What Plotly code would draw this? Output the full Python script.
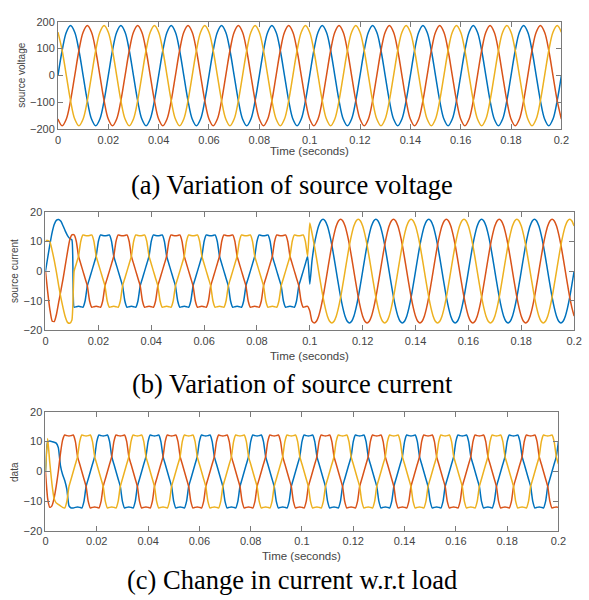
import plotly.graph_objects as go

W, H = 589, 600

# ---------------- data ----------------
# (a) source voltage, sampled every 30 electrical degrees (50 Hz)
step_a = 0.02 / 12
volt_blue = [
    0, 93, 161, 186, 161, 93, 0, -93, -161, -186, -161, -93,
    0, 93, 161, 186, 161, 93, 0, -93, -161, -186, -161, -93,
    0, 93, 161, 186, 161, 93, 0, -93, -161, -186, -161, -93,
    0, 93, 161, 186, 161, 93, 0, -93, -161, -186, -161, -93,
    0, 93, 161, 186, 161, 93, 0, -93, -161, -186, -161, -93,
    0, 93, 161, 186, 161, 93, 0, -93, -161, -186, -161, -93,
    0, 93, 161, 186, 161, 93, 0, -93, -161, -186, -161, -93,
    0, 93, 161, 186, 161, 93, 0, -93, -161, -186, -161, -93,
    0, 93, 161, 186, 161, 93, 0, -93, -161, -186, -161, -93,
    0, 93, 161, 186, 161, 93, 0, -93, -161, -186, -161, -93,
    0]
volt_red = [
    -161, -186, -161, -93, 0, 93, 161, 186, 161, 93, 0, -93,
    -161, -186, -161, -93, 0, 93, 161, 186, 161, 93, 0, -93,
    -161, -186, -161, -93, 0, 93, 161, 186, 161, 93, 0, -93,
    -161, -186, -161, -93, 0, 93, 161, 186, 161, 93, 0, -93,
    -161, -186, -161, -93, 0, 93, 161, 186, 161, 93, 0, -93,
    -161, -186, -161, -93, 0, 93, 161, 186, 161, 93, 0, -93,
    -161, -186, -161, -93, 0, 93, 161, 186, 161, 93, 0, -93,
    -161, -186, -161, -93, 0, 93, 161, 186, 161, 93, 0, -93,
    -161, -186, -161, -93, 0, 93, 161, 186, 161, 93, 0, -93,
    -161, -186, -161, -93, 0, 93, 161, 186, 161, 93, 0, -93,
    -161]
volt_yellow = [
    161, 93, 0, -93, -161, -186, -161, -93, 0, 93, 161, 186,
    161, 93, 0, -93, -161, -186, -161, -93, 0, 93, 161, 186,
    161, 93, 0, -93, -161, -186, -161, -93, 0, 93, 161, 186,
    161, 93, 0, -93, -161, -186, -161, -93, 0, 93, 161, 186,
    161, 93, 0, -93, -161, -186, -161, -93, 0, 93, 161, 186,
    161, 93, 0, -93, -161, -186, -161, -93, 0, 93, 161, 186,
    161, 93, 0, -93, -161, -186, -161, -93, 0, 93, 161, 186,
    161, 93, 0, -93, -161, -186, -161, -93, 0, 93, 161, 186,
    161, 93, 0, -93, -161, -186, -161, -93, 0, 93, 161, 186,
    161, 93, 0, -93, -161, -186, -161, -93, 0, 93, 161, 186,
    161]

# (b) source current and (c) load current, sampled every 15 electrical degrees
step_bc = 0.02 / 24
cur_b_blue = [
    0, 4.5, 9, 13, 15.8, 17.2, 17.4, 16.8, 15.2, 13.5, 12, 11, 10.5,
    -12.2, -12.0, -11.9, -12.0, -12.2, -10.0, -5, -2.5, 0, 2.5, 5,
    10.0, 12.2, 12.0, 11.9, 12.0, 12.2, 10.0, 5, 2.5, 0, -2.5, -5, -10.0, -12.2, -12.0, -11.9, -12.0, -12.2, -10.0, -5, -2.5, 0, 2.5, 5,
    10.0, 12.2, 12.0, 11.9, 12.0, 12.2, 10.0, 5, 2.5, 0, -2.5, -5, -10.0, -12.2, -12.0, -11.9, -12.0, -12.2, -10.0, -5, -2.5, 0, 2.5, 5,
    10.0, 12.2, 12.0, 11.9, 12.0, 12.2, 10.0, 5, 2.5, 0, -2.5, -5, -10.0, -12.2, -12.0, -11.9, -12.0, -12.2, -10.0, -5, -2.5, 0, 2.5, 5,
    10.0, 12.2, 12.0, 11.9, 12.0, 12.2, 10.0, 5, 2.5, 0, -2.5, -5, -10.0, -12.2, -12.0, -11.9, -12.0, -12.2, -10.0, -5, -2.5, 0, 2.5, 5,
    -4.4, 3.5,
    8.8, 12.4, 15.2, 16.9, 17.5, 16.9, 15.2, 12.4, 8.8, 4.5, 0, -4.5, -8.8, -12.4, -15.2, -16.9, -17.5, -16.9, -15.2, -12.4, -8.8, -4.5,
    0, 4.5, 8.8, 12.4, 15.2, 16.9, 17.5, 16.9, 15.2, 12.4, 8.8, 4.5, 0, -4.5, -8.8, -12.4, -15.2, -16.9, -17.5, -16.9, -15.2, -12.4, -8.8, -4.5,
    0, 4.5, 8.8, 12.4, 15.2, 16.9, 17.5, 16.9, 15.2, 12.4, 8.8, 4.5, 0, -4.5, -8.8, -12.4, -15.2, -16.9, -17.5, -16.9, -15.2, -12.4, -8.8, -4.5,
    0, 4.5, 8.8, 12.4, 15.2, 16.9, 17.5, 16.9, 15.2, 12.4, 8.8, 4.5, 0, -4.5, -8.8, -12.4, -15.2, -16.9, -17.5, -16.9, -15.2, -12.4, -8.8, -4.5,
    0, 4.5, 8.8, 12.4, 15.2, 16.9, 17.5, 16.9, 15.2, 12.4, 8.8, 4.5, 0, -4.5, -8.8, -12.4, -15.2, -16.9, -17.5, -16.9, -15.2, -12.4, -8.8, -4.5,
    0]
cur_b_red = [
    0, -7, -13, -16.8, -17, -14.5, -10.5, -6.5, -2.5, 2, 6.5, 10.5, 12.2,
    12.2, 10.0, 5, 2.5, 0, -2.5, -5, -10.0, -12.2, -12.0, -11.9,
    -12.0, -12.2, -10.0, -5, -2.5, 0, 2.5, 5, 10.0, 12.2, 12.0, 11.9, 12.0, 12.2, 10.0, 5, 2.5, 0, -2.5, -5, -10.0, -12.2, -12.0, -11.9,
    -12.0, -12.2, -10.0, -5, -2.5, 0, 2.5, 5, 10.0, 12.2, 12.0, 11.9, 12.0, 12.2, 10.0, 5, 2.5, 0, -2.5, -5, -10.0, -12.2, -12.0, -11.9,
    -12.0, -12.2, -10.0, -5, -2.5, 0, 2.5, 5, 10.0, 12.2, 12.0, 11.9, 12.0, 12.2, 10.0, 5, 2.5, 0, -2.5, -5, -10.0, -12.2, -12.0, -11.9,
    -12.0, -12.2, -10.0, -5, -2.5, 0, 2.5, 5, 10.0, 12.2, 12.0, 11.9, 12.0, 12.2, 10.0, 5, 2.5, 0, -2.5, -5, -10.0, -12.2, -12.0, -11.9,
    -13.5, -16.9,
    -17.5, -16.9, -15.2, -12.4, -8.8, -4.5, 0, 4.5, 8.8, 12.4, 15.2, 16.9, 17.5, 16.9, 15.2, 12.4, 8.8, 4.5, 0, -4.5, -8.8, -12.4,
    -15.2, -16.9, -17.5, -16.9, -15.2, -12.4, -8.8, -4.5, 0, 4.5, 8.8, 12.4, 15.2, 16.9, 17.5, 16.9, 15.2, 12.4, 8.8, 4.5, 0, -4.5, -8.8, -12.4,
    -15.2, -16.9, -17.5, -16.9, -15.2, -12.4, -8.8, -4.5, 0, 4.5, 8.8, 12.4, 15.2, 16.9, 17.5, 16.9, 15.2, 12.4, 8.8, 4.5, 0, -4.5, -8.8, -12.4,
    -15.2, -16.9, -17.5, -16.9, -15.2, -12.4, -8.8, -4.5, 0, 4.5, 8.8, 12.4, 15.2, 16.9, 17.5, 16.9, 15.2, 12.4, 8.8, 4.5, 0, -4.5, -8.8, -12.4,
    -15.2, -16.9, -17.5, -16.9, -15.2, -12.4, -8.8, -4.5, 0, 4.5, 8.8, 12.4, 15.2, 16.9, 17.5, 16.9, 15.2, 12.4, 8.8, 4.5, 0, -4.5, -8.8, -12.4,
    -15.2]
cur_b_yellow = [
    10.3, 10.3, 9.8, 7, 3.5, -0.5, -5, -9, -12.5, -15.5, -17.3, -17.6, -16.5,
    0, 2.5, 5, 10.0, 12.2, 12.0, 11.9, 12.0, 12.2, 10.0, 5,
    2.5, 0, -2.5, -5, -10.0, -12.2, -12.0, -11.9, -12.0, -12.2, -10.0, -5, -2.5, 0, 2.5, 5, 10.0, 12.2, 12.0, 11.9, 12.0, 12.2, 10.0, 5,
    2.5, 0, -2.5, -5, -10.0, -12.2, -12.0, -11.9, -12.0, -12.2, -10.0, -5, -2.5, 0, 2.5, 5, 10.0, 12.2, 12.0, 11.9, 12.0, 12.2, 10.0, 5,
    2.5, 0, -2.5, -5, -10.0, -12.2, -12.0, -11.9, -12.0, -12.2, -10.0, -5, -2.5, 0, 2.5, 5, 10.0, 12.2, 12.0, 11.9, 12.0, 12.2, 10.0, 5,
    2.5, 0, -2.5, -5, -10.0, -12.2, -12.0, -11.9, -12.0, -12.2, -10.0, -5, -2.5, 0, 2.5, 5, 10.0, 12.2, 12.0, 11.9, 12.0, 12.2, 10.0, 5,
    16.2, 12.8,
    8.8, 4.5, 0, -4.5, -8.8, -12.4, -15.2, -16.9, -17.5, -16.9, -15.2, -12.4, -8.8, -4.5, 0, 4.5, 8.8, 12.4, 15.2, 16.9, 17.5, 16.9,
    15.2, 12.4, 8.8, 4.5, 0, -4.5, -8.8, -12.4, -15.2, -16.9, -17.5, -16.9, -15.2, -12.4, -8.8, -4.5, 0, 4.5, 8.8, 12.4, 15.2, 16.9, 17.5, 16.9,
    15.2, 12.4, 8.8, 4.5, 0, -4.5, -8.8, -12.4, -15.2, -16.9, -17.5, -16.9, -15.2, -12.4, -8.8, -4.5, 0, 4.5, 8.8, 12.4, 15.2, 16.9, 17.5, 16.9,
    15.2, 12.4, 8.8, 4.5, 0, -4.5, -8.8, -12.4, -15.2, -16.9, -17.5, -16.9, -15.2, -12.4, -8.8, -4.5, 0, 4.5, 8.8, 12.4, 15.2, 16.9, 17.5, 16.9,
    15.2, 12.4, 8.8, 4.5, 0, -4.5, -8.8, -12.4, -15.2, -16.9, -17.5, -16.9, -15.2, -12.4, -8.8, -4.5, 0, 4.5, 8.8, 12.4, 15.2, 16.9, 17.5, 16.9,
    15.2]

cur_c_blue = [
    0, 9.8, 10.2, 10, 9.8, 9.5, 8, 2, -1, -3, -6, -11.5, -12.2,
    -12.2, -12.0, -11.9, -12.0, -12.2, -10.0, -5, -2.5, 0, 2.5, 5,
    10.0, 12.2, 12.0, 11.9, 12.0, 12.2, 10.0, 5, 2.5, 0, -2.5, -5, -10.0, -12.2, -12.0, -11.9, -12.0, -12.2, -10.0, -5, -2.5, 0, 2.5, 5,
    10.0, 12.2, 12.0, 11.9, 12.0, 12.2, 10.0, 5, 2.5, 0, -2.5, -5, -10.0, -12.2, -12.0, -11.9, -12.0, -12.2, -10.0, -5, -2.5, 0, 2.5, 5,
    10.0, 12.2, 12.0, 11.9, 12.0, 12.2, 10.0, 5, 2.5, 0, -2.5, -5, -10.0, -12.2, -12.0, -11.9, -12.0, -12.2, -10.0, -5, -2.5, 0, 2.5, 5,
    10.0, 12.2, 12.0, 11.9, 12.0, 12.2, 10.0, 5, 2.5, 0, -2.5, -5, -10.0, -12.2, -12.0, -11.9, -12.0, -12.2, -10.0, -5, -2.5, 0, 2.5, 5,
    10.0, 12.2, 12.0, 11.9, 12.0, 12.2, 10.0, 5, 2.5, 0, -2.5, -5, -10.0, -12.2, -12.0, -11.9, -12.0, -12.2, -10.0, -5, -2.5, 0, 2.5, 5,
    10.0, 12.2, 12.0, 11.9, 12.0, 12.2, 10.0, 5, 2.5, 0, -2.5, -5, -10.0, -12.2, -12.0, -11.9, -12.0, -12.2, -10.0, -5, -2.5, 0, 2.5, 5,
    10.0, 12.2, 12.0, 11.9, 12.0, 12.2, 10.0, 5, 2.5, 0, -2.5, -5, -10.0, -12.2, -12.0, -11.9, -12.0, -12.2, -10.0, -5, -2.5, 0, 2.5, 5,
    10.0, 12.2, 12.0, 11.9, 12.0, 12.2, 10.0, 5, 2.5, 0, -2.5, -5, -10.0, -12.2, -12.0, -11.9, -12.0, -12.2, -10.0, -5, -2.5, 0, 2.5, 5,
    10.0, 12.2, 12.0, 11.9, 12.0, 12.2, 10.0, 5, 2.5, 0, -2.5, -5, -10.0, -12.2, -12.0, -11.9, -12.0, -12.2, -10.0, -5, -2.5, 0, 2.5, 5,
    10.0]
cur_c_red = [
    0, -9, -12, -11.5, -9, -5, 0, 6, 10.5, 12.2, 12, 11.9, 12.0,
    12.2, 10.0, 5, 2.5, 0, -2.5, -5, -10.0, -12.2, -12.0, -11.9,
    -12.0, -12.2, -10.0, -5, -2.5, 0, 2.5, 5, 10.0, 12.2, 12.0, 11.9, 12.0, 12.2, 10.0, 5, 2.5, 0, -2.5, -5, -10.0, -12.2, -12.0, -11.9,
    -12.0, -12.2, -10.0, -5, -2.5, 0, 2.5, 5, 10.0, 12.2, 12.0, 11.9, 12.0, 12.2, 10.0, 5, 2.5, 0, -2.5, -5, -10.0, -12.2, -12.0, -11.9,
    -12.0, -12.2, -10.0, -5, -2.5, 0, 2.5, 5, 10.0, 12.2, 12.0, 11.9, 12.0, 12.2, 10.0, 5, 2.5, 0, -2.5, -5, -10.0, -12.2, -12.0, -11.9,
    -12.0, -12.2, -10.0, -5, -2.5, 0, 2.5, 5, 10.0, 12.2, 12.0, 11.9, 12.0, 12.2, 10.0, 5, 2.5, 0, -2.5, -5, -10.0, -12.2, -12.0, -11.9,
    -12.0, -12.2, -10.0, -5, -2.5, 0, 2.5, 5, 10.0, 12.2, 12.0, 11.9, 12.0, 12.2, 10.0, 5, 2.5, 0, -2.5, -5, -10.0, -12.2, -12.0, -11.9,
    -12.0, -12.2, -10.0, -5, -2.5, 0, 2.5, 5, 10.0, 12.2, 12.0, 11.9, 12.0, 12.2, 10.0, 5, 2.5, 0, -2.5, -5, -10.0, -12.2, -12.0, -11.9,
    -12.0, -12.2, -10.0, -5, -2.5, 0, 2.5, 5, 10.0, 12.2, 12.0, 11.9, 12.0, 12.2, 10.0, 5, 2.5, 0, -2.5, -5, -10.0, -12.2, -12.0, -11.9,
    -12.0, -12.2, -10.0, -5, -2.5, 0, 2.5, 5, 10.0, 12.2, 12.0, 11.9, 12.0, 12.2, 10.0, 5, 2.5, 0, -2.5, -5, -10.0, -12.2, -12.0, -11.9,
    -12.0, -12.2, -10.0, -5, -2.5, 0, 2.5, 5, 10.0, 12.2, 12.0, 11.9, 12.0, 12.2, 10.0, 5, 2.5, 0, -2.5, -5, -10.0, -12.2, -12.0, -11.9,
    -12.0]
cur_c_yellow = [
    0, 11, 3, -4, -9, -10.5, -11, -11.5, -12.0, -12.2, -10.0, -5, -2.5,
    0, 2.5, 5, 10.0, 12.2, 12.0, 11.9, 12.0, 12.2, 10.0, 5,
    2.5, 0, -2.5, -5, -10.0, -12.2, -12.0, -11.9, -12.0, -12.2, -10.0, -5, -2.5, 0, 2.5, 5, 10.0, 12.2, 12.0, 11.9, 12.0, 12.2, 10.0, 5,
    2.5, 0, -2.5, -5, -10.0, -12.2, -12.0, -11.9, -12.0, -12.2, -10.0, -5, -2.5, 0, 2.5, 5, 10.0, 12.2, 12.0, 11.9, 12.0, 12.2, 10.0, 5,
    2.5, 0, -2.5, -5, -10.0, -12.2, -12.0, -11.9, -12.0, -12.2, -10.0, -5, -2.5, 0, 2.5, 5, 10.0, 12.2, 12.0, 11.9, 12.0, 12.2, 10.0, 5,
    2.5, 0, -2.5, -5, -10.0, -12.2, -12.0, -11.9, -12.0, -12.2, -10.0, -5, -2.5, 0, 2.5, 5, 10.0, 12.2, 12.0, 11.9, 12.0, 12.2, 10.0, 5,
    2.5, 0, -2.5, -5, -10.0, -12.2, -12.0, -11.9, -12.0, -12.2, -10.0, -5, -2.5, 0, 2.5, 5, 10.0, 12.2, 12.0, 11.9, 12.0, 12.2, 10.0, 5,
    2.5, 0, -2.5, -5, -10.0, -12.2, -12.0, -11.9, -12.0, -12.2, -10.0, -5, -2.5, 0, 2.5, 5, 10.0, 12.2, 12.0, 11.9, 12.0, 12.2, 10.0, 5,
    2.5, 0, -2.5, -5, -10.0, -12.2, -12.0, -11.9, -12.0, -12.2, -10.0, -5, -2.5, 0, 2.5, 5, 10.0, 12.2, 12.0, 11.9, 12.0, 12.2, 10.0, 5,
    2.5, 0, -2.5, -5, -10.0, -12.2, -12.0, -11.9, -12.0, -12.2, -10.0, -5, -2.5, 0, 2.5, 5, 10.0, 12.2, 12.0, 11.9, 12.0, 12.2, 10.0, 5,
    2.5, 0, -2.5, -5, -10.0, -12.2, -12.0, -11.9, -12.0, -12.2, -10.0, -5, -2.5, 0, 2.5, 5, 10.0, 12.2, 12.0, 11.9, 12.0, 12.2, 10.0, 5,
    2.5]

x_tick_vals = [0, 0.02, 0.04, 0.06, 0.08, 0.1, 0.12, 0.14, 0.16, 0.18, 0.2]
x_tick_text = ["0", "0.02", "0.04", "0.06", "0.08", "0.1", "0.12", "0.14", "0.16", "0.18", "0.2"]
y_ticks_a = [-200, -100, 0, 100, 200]
y_ticks_bc = [-20, -10, 0, 10, 20]
y_labels = ["source voltage", "source current", "data"]
x_label = "Time (seconds)"
captions = ["(a) Variation of source voltage",
            "(b) Variation of source current",
            "(c) Change in current w.r.t load"]

# ---------------- styling ----------------
colors = ["#0072BD", "#D95319", "#EDB120"]
axis_col = "#7a7a7a"
text_col = "#444444"
sans = "Liberation Sans, Arial, sans-serif"
serif = "Liberation Serif, Times New Roman, serif"

# panel boxes in pixels: (left, right, top, bottom)
boxes = [(56, 569, 16, 126), (43.3, 582, 210, 331), (43.3, 566, 414, 536)]

fig = go.Figure()

panels = [
    (step_a, [volt_blue, volt_red, volt_yellow], dict(shape="spline")),
    (step_bc, [cur_b_blue, cur_b_red, cur_b_yellow], dict(shape="spline", smoothing=0.5)),
    (step_bc, [cur_c_blue, cur_c_red, cur_c_yellow], dict(shape="spline", smoothing=0.5)),
]
for i, (step, series, shp) in enumerate(panels):
    xa = "x" if i == 0 else f"x{i+1}"
    ya = "y" if i == 0 else f"y{i+1}"
    for s, c in zip(series, colors):
        t = [k * step for k in range(len(s))]
        fig.add_trace(go.Scatter(x=t, y=s, mode="lines", xaxis=xa, yaxis=ya,
                                 line=dict(color=c, width=1.5, **shp),
                                 showlegend=False, hoverinfo="skip"))

layout = dict(width=W, height=H, margin=dict(l=0, r=0, t=0, b=0),
              paper_bgcolor="white", plot_bgcolor="white", showlegend=False)

annotations = []
for i, (l, r, t, b) in enumerate(boxes):
    sfx = "" if i == 0 else str(i + 1)
    yt = y_ticks_a if i == 0 else y_ticks_bc
    common = dict(showline=True, linecolor=axis_col, linewidth=1, mirror="ticks",
                  ticks="inside", ticklen=5, tickcolor=axis_col, tickwidth=1,
                  showgrid=False, zeroline=False,
                  tickfont=dict(family=sans, size=11, color=text_col))
    layout["xaxis" + sfx] = dict(domain=[l / W, r / W], anchor="y" + sfx,
                                 range=[0, 0.2], tickmode="array",
                                 tickvals=x_tick_vals, ticktext=x_tick_text, **common)
    layout["yaxis" + sfx] = dict(domain=[1 - b / H, 1 - t / H], anchor="x" + sfx,
                                 range=[yt[0], yt[-1]], tickmode="array",
                                 tickvals=yt, **common)

ylab_pos = [(18.5, 71), (11.7, 270), (11.7, 475)]
xlab_pos = [(312.5, 148), (312.5, 357), (304.5, 561)]
cap_pos = [(294.5, 183), (294.5, 386), (294.5, 586)]
for i in range(3):
    annotations.append(dict(text=y_labels[i], x=ylab_pos[i][0] / W, y=1 - ylab_pos[i][1] / H,
                            xref="paper", yref="paper", showarrow=False, textangle=-90,
                            xanchor="center", yanchor="middle",
                            font=dict(family=sans, size=10, color=text_col)))
    annotations.append(dict(text=x_label, x=xlab_pos[i][0] / W, y=1 - xlab_pos[i][1] / H,
                            xref="paper", yref="paper", showarrow=False,
                            xanchor="center", yanchor="middle",
                            font=dict(family=sans, size=11.5, color=text_col)))
    annotations.append(dict(text=captions[i], x=cap_pos[i][0] / W, y=1 - cap_pos[i][1] / H,
                            xref="paper", yref="paper", showarrow=False,
                            xanchor="center", yanchor="middle",
                            font=dict(family=serif, size=26.5, color="black")))
layout["annotations"] = annotations

fig.update_layout(**layout)
fig.write_html("out.html",
               config={"displayModeBar": False, "staticPlot": True},
               post_script="document.body.style.margin='0';"
                           "document.documentElement.style.overflow='hidden';")
